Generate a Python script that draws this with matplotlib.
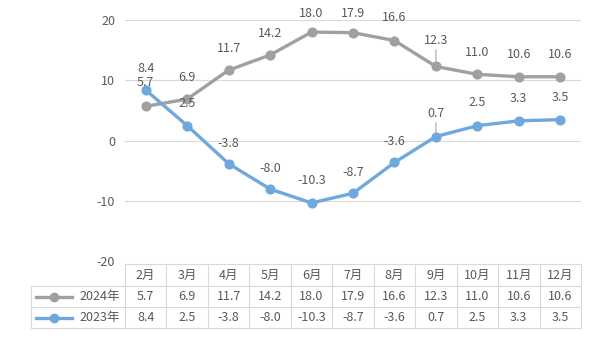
import matplotlib
matplotlib.use('Agg')
import matplotlib.pyplot as plt
from matplotlib.lines import Line2D

plt.rcParams['font.family'] = ['Noto Sans CJK SC', 'DejaVu Sans']
plt.rcParams['axes.unicode_minus'] = False

# data
months = ['2月', '3月', '4月', '5月', '6月', '7月', '8月', '9月', '10月', '11月', '12月']
series_names = ['2024年', '2023年']
values_2024 = [5.7, 6.9, 11.7, 14.2, 18.0, 17.9, 16.6, 12.3, 11.0, 10.6, 10.6]
values_2023 = [8.4, 2.5, -3.8, -8.0, -10.3, -8.7, -3.6, 0.7, 2.5, 3.3, 3.5]

# label offsets above each point, in pixels (layout only)
offs_2024 = [24, 22, 22, 22, 19, 19, 23, 26, 22, 22, 22]
offs_2023 = [22, 22, 20, 21, 22, 21, 21, 23, 23, 22, 22]
leader_2024 = [7]   # indices with a leader line
leader_2023 = [7]

gray = '#A0A0A0'
blue = '#6FA8DC'
txt = '#595959'
grid = '#D9D9D9'

W, H = 600, 351
fig = plt.figure(figsize=(6, 3.51), dpi=100)


def fx(x):
    return x / W


def fy(y):
    return 1 - y / H


# plot area in pixels
L, R, T, B = 125, 581, 20, 261.5
ax = fig.add_axes([fx(L), fy(B), (R - L) / W, (B - T) / H])
ax.set_xlim(-0.5, len(months) - 0.5)
ax.set_ylim(-20, 20)
ax.set_yticks([-20, -10, 0, 10, 20])
for v in [-10, 0, 10, 20]:
    ax.axhline(v, color=grid, lw=0.8, zorder=0)
ax.set_xticks([])
for s in ax.spines.values():
    s.set_visible(False)
ax.tick_params(axis='y', length=0, pad=7, labelsize=9, labelcolor=txt)

x = list(range(len(months)))
ax.plot(x, values_2024, color=gray, lw=2.4, marker='o', ms=6.3, zorder=3)
ax.plot(x, values_2023, color=blue, lw=2.4, marker='o', ms=6.3, zorder=4)


def labels(vals, offs, leaders):
    for i, v in enumerate(vals):
        kw = {}
        if i in leaders:
            kw['arrowprops'] = dict(arrowstyle='-', color='#A6A6A6', lw=0.8,
                                    shrinkA=0, shrinkB=3)
        ax.annotate(f'{v:.1f}', (i, v), xytext=(0, offs[i] * 0.72),
                    textcoords='offset points', ha='center', va='center',
                    fontsize=9, color=txt, zorder=5, **kw)


labels(values_2024, offs_2024, leader_2024)
labels(values_2023, offs_2023, leader_2023)

# data table under the chart
tl, tr = 31, 581
rows_y = [264, 286, 307, 328]
colw = (tr - L) / len(months)


def hline(x0, x1, y):
    fig.add_artist(Line2D([fx(x0), fx(x1)], [fy(y), fy(y)], color=grid, lw=0.8))


def vline(x, y0, y1):
    fig.add_artist(Line2D([fx(x), fx(x)], [fy(y0), fy(y1)], color=grid, lw=0.8))


hline(L, tr, rows_y[0])
for y in rows_y[1:]:
    hline(tl, tr, y)
vline(tl, rows_y[1], rows_y[3])
for k in range(len(months) + 1):
    vline(L + k * colw, rows_y[0], rows_y[3])

for i, m in enumerate(months):
    cx = L + (i + 0.5) * colw
    fig.text(fx(cx), fy((rows_y[0] + rows_y[1]) / 2), m, ha='center',
             va='center', fontsize=9, color=txt)
    for r, vals in enumerate([values_2024, values_2023]):
        cy = (rows_y[r + 1] + rows_y[r + 2]) / 2
        fig.text(fx(cx), fy(cy), f'{vals[i]:.1f}', ha='center',
                 va='center', fontsize=9, color=txt)

for r, (name, col) in enumerate(zip(series_names, [gray, blue])):
    cy = (rows_y[r + 1] + rows_y[r + 2]) / 2
    fig.add_artist(Line2D([fx(36), fx(72)], [fy(cy), fy(cy)], color=col, lw=2.4))
    fig.add_artist(Line2D([fx(54)], [fy(cy)], color=col, marker='o', ms=6))
    fig.text(fx(120), fy(cy), name, ha='right', va='center', fontsize=9, color=txt)

fig.savefig('out.png', dpi=100)
